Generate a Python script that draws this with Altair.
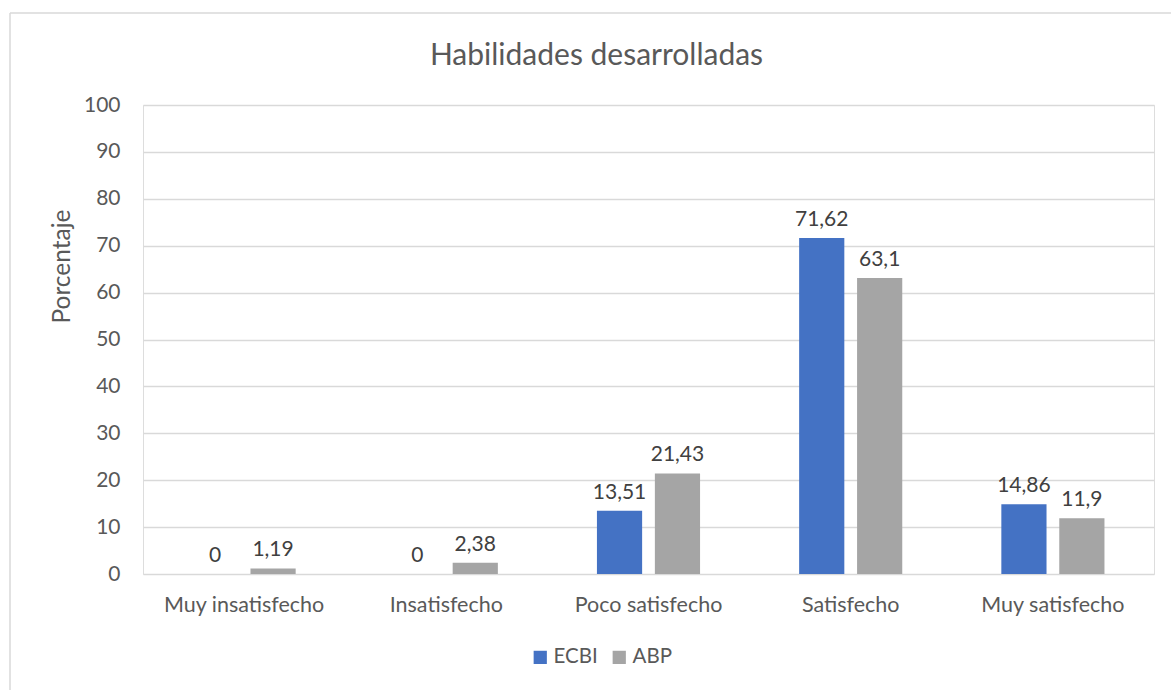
import altair as alt
import pandas as pd

# Survey results: percentage of respondents per satisfaction level
categories = ["Muy insatisfecho", "Insatisfecho", "Poco satisfecho", "Satisfecho", "Muy satisfecho"]
series = ["ECBI", "ABP"]
ecbi = [0, 0, 13.51, 71.62, 14.86]
abp = [1.19, 2.38, 21.43, 63.1, 11.9]
colors = ["#4472C4", "#A5A5A5"]
y_ticks = list(range(0, 101, 10))

rows = []
for cat, e, a in zip(categories, ecbi, abp):
    for name, v in (("ECBI", e), ("ABP", a)):
        rows.append({"cat": cat, "serie": name, "valor": v,
                     "etiqueta": f"{v:g}".replace(".", ",")})
df = pd.DataFrame(rows)

FONT = "Lato"
W, H = 1011, 469
PAD = {"left": 143, "top": 105, "right": 1171 - 143 - W, "bottom": 690 - 105 - H}

x_enc = alt.X("cat:N", sort=categories, title=None,
              scale=alt.Scale(paddingInner=0.49, paddingOuter=0.245),
              axis=alt.Axis(labelAngle=0, ticks=False, domain=False, labelPadding=20,
                            labelFontSize=21.5, labelColor="#595959", labelFont=FONT))
xo_enc = alt.XOffset("serie:N", sort=series, scale=alt.Scale(paddingInner=0.22))
y_enc = alt.Y("valor:Q", title="Porcentaje",
              scale=alt.Scale(domain=[0, 100], nice=False),
              axis=alt.Axis(values=y_ticks, ticks=False, domain=False, labelPadding=23,
                            gridColor="#d9d9d9", gridWidth=1.3,
                            labelFontSize=21, labelColor="#595959", labelFont=FONT,
                            titleFontSize=24.5, titleColor="#595959", titleFont=FONT,
                            titleFontWeight="normal", titleAngle=270,
                            titleAlign="center", titleBaseline="middle",
                            titleX=-81, titleY=161))

base = alt.Chart(df)

bars = base.mark_bar().encode(
    x=x_enc, xOffset=xo_enc, y=y_enc,
    color=alt.Color("serie:N", sort=series,
                    scale=alt.Scale(domain=series, range=colors),
                    legend=alt.Legend(title=None, orient="none", direction="horizontal",
                                      legendX=387, legendY=542,
                                      symbolType="square", symbolSize=175,
                                      symbolStrokeWidth=0, columnPadding=11,
                                      labelFontSize=20.5, labelColor="#595959",
                                      labelFont=FONT, labelOffset=3)),
)

labels = base.mark_text(baseline="bottom", dy=-8, fontSize=21,
                        color="#404040", font=FONT).encode(
    x=x_enc, xOffset=xo_enc, y=y_enc, text="etiqueta:N"
)

# light frame around the whole figure
frame_data = alt.Data(values=[{}])
frame_top = alt.Chart(frame_data).mark_rule(color="#d9d9d9", strokeWidth=1.5).encode(
    x=alt.value(-133), x2=alt.value(W + PAD["right"] + 10), y=alt.value(-92))
frame_left = alt.Chart(frame_data).mark_rule(color="#d9d9d9", strokeWidth=1.5).encode(
    x=alt.value(-133), y=alt.value(-92), y2=alt.value(H + PAD["bottom"] + 10))

chart = alt.layer(frame_top, frame_left, bars, labels).properties(
    width=W, height=H,
    padding=PAD,
    autosize=alt.AutoSizeParams(type="none"),
    title=alt.TitleParams("Habilidades desarrolladas", fontSize=30, font=FONT,
                          fontWeight="normal", color="#595959",
                          anchor="middle", dx=-52, offset=34, dy=93),
).configure_view(stroke=None).configure(background="white")

chart.save("out.html", embed_options={"renderer": "svg", "actions": False})
